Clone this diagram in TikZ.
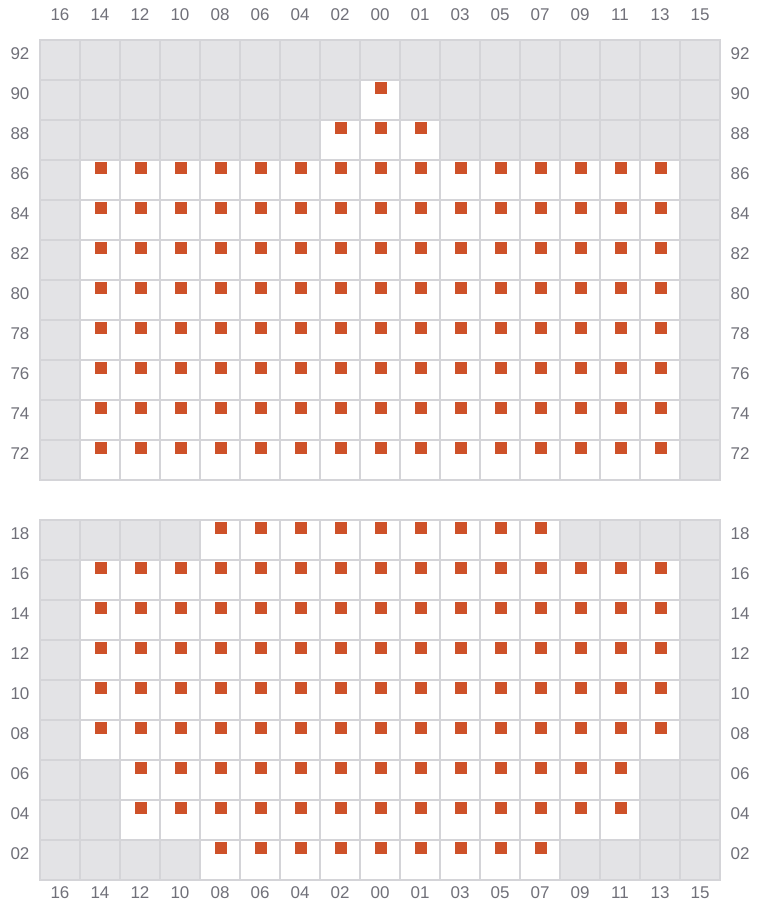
\documentclass[tikz,border=0pt]{standalone}
\usepackage{fontspec}
\setmainfont{Liberation Sans}
\usepackage{tikz}
\usetikzlibrary{positioning}
\usepackage{xcolor}
\definecolor{slotgray}{HTML}{E3E3E6}
\definecolor{gridline}{HTML}{D4D4D8}
\definecolor{unit}{HTML}{CE5129}
\definecolor{labelgray}{HTML}{707079}

\tikzset{
  gridrule/.style={draw=gridline, line width=2pt, line cap=rect},
  unitmark/.style={fill=unit, draw=none, inner sep=0pt, minimum size=12pt},
  poslabel/.style={text=labelgray, font=\fontsize{17}{20}\selectfont}
}

\begin{document}
\begin{tikzpicture}[x=1pt, y=-1pt]
  \useasboundingbox (0,0) rectangle (760,920);
  % upper block
  \fill[slotgray] (40,40) rectangle (720,480);
  \fill[white] (360,80) rectangle (400,120) (320,120) rectangle (440,160) (80,160) rectangle (680,480);
  % lower block
  \fill[slotgray] (40,520) rectangle (720,880);
  \fill[white] (200,520) rectangle (560,560) (80,560) rectangle (680,760)
    (120,760) rectangle (640,840) (200,840) rectangle (560,880);
  \foreach \x in {40,80,...,720} {
    \draw[gridrule] (\x,40) -- (\x,480);
    \draw[gridrule] (\x,520) -- (\x,880);
  }
  \foreach \y in {40,80,...,480} \draw[gridrule] (40,\y) -- (720,\y);
  \foreach \y in {520,560,...,880} \draw[gridrule] (40,\y) -- (720,\y);

  \foreach \top/\from/\to in {80/8/8, 120/7/9, 160/1/15, 200/1/15, 240/1/15, 280/1/15, 320/1/15,
      360/1/15, 400/1/15, 440/1/15, 520/4/12, 560/1/15, 600/1/15, 640/1/15, 680/1/15, 720/1/15,
      760/2/14, 800/2/14, 840/4/12}
    \foreach \i in {\from,...,\to}
      \node[unitmark] (u\top-\i) at ({40*\i+61},{\top+8}) {};

  \foreach \lab [count=\i from 0] in {16,14,12,10,08,06,04,02,00,01,03,05,07,09,11,13,15} {
    \node[poslabel] (colt\i) at ({40*\i+60},15) {\lab};
    \node[poslabel] (colb\i) at ({40*\i+60},893) {\lab};
  }
  \foreach \lab [count=\j from 0] in {92,90,88,86,84,82,80,78,76,74,72} {
    \node[poslabel] (rowl\lab) at (20,{40*\j+54}) {\lab};
    \node[poslabel] (rowr\lab) at (740,{40*\j+54}) {\lab};
  }
  \foreach \lab [count=\j from 0] in {18,16,14,12,10,08,06,04,02} {
    \node[poslabel] (rowl\lab) at (20,{40*\j+534}) {\lab};
    \node[poslabel] (rowr\lab) at (740,{40*\j+534}) {\lab};
  }
\end{tikzpicture}
\end{document}
